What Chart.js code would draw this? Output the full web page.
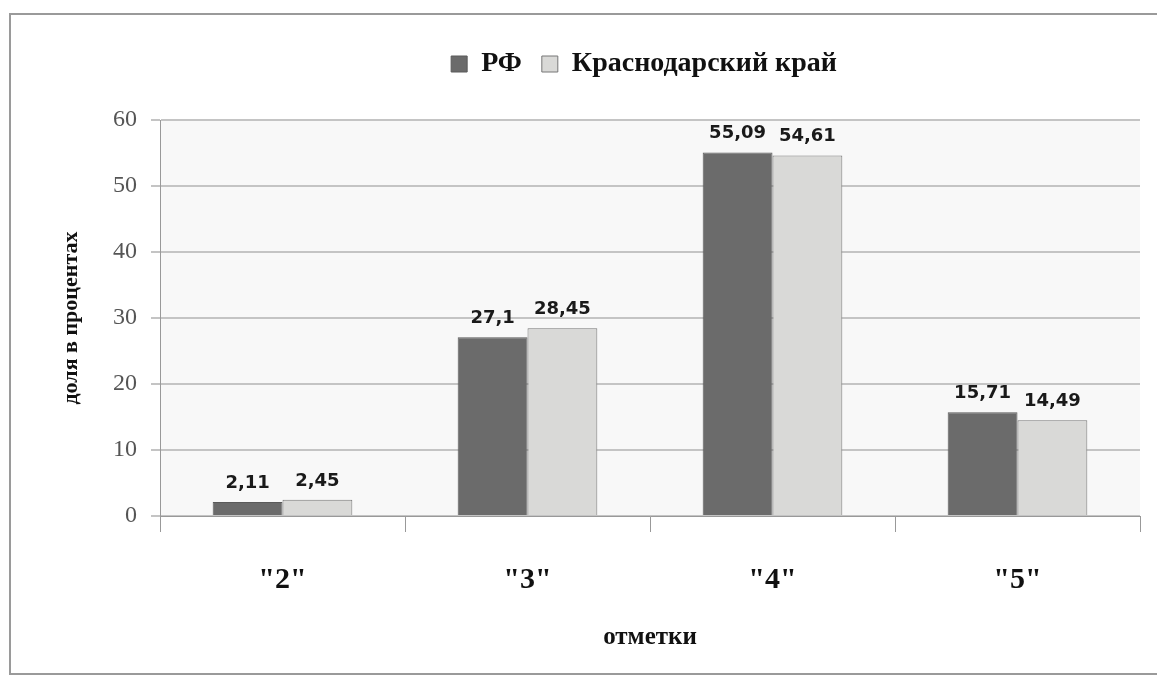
<!DOCTYPE html>
<html>
<head>
<meta charset="utf-8">
<script src="https://cdn.jsdelivr.net/npm/chart.js@4"></script>
<style>
  html, body { margin: 0; padding: 0; background: #fff; }
  canvas { display: block; }
</style>
</head>
<body>
<canvas id="marksChart" width="1157" height="681"></canvas>
<script>
// Распределение отметок
const categories = ['"2"', '"3"', '"4"', '"5"'];
const seriesNames = ['РФ', 'Краснодарский край'];
const rfValues = [2.11, 27.1, 55.09, 15.71];
const krayValues = [2.45, 28.45, 54.61, 14.49];
const yTicks = [0, 10, 20, 30, 40, 50, 60];

const serif = '"Liberation Serif", "Times New Roman", serif';

// frame + light plot background
const framePlugin = {
    id: 'frame',
    afterInit(chart) {
        // extra gap between legend and plot
        const legend = chart.legend;
        const fit = legend.fit;
        legend.fit = function() {
            fit.call(this);
            this.height += 32;
        };
    },
    afterLayout(chart) {
        // legend sits over the plot centre, not the canvas centre
        chart.legend.left += 74;
        chart.legend.right += 74;
    },
    beforeDraw(chart) {
        const ctx = chart.ctx;
        const a = chart.chartArea;
        ctx.save();
        ctx.fillStyle = '#fff';
        ctx.fillRect(0, 0, chart.width, chart.height);
        ctx.strokeStyle = '#9a9a9a';
        ctx.lineWidth = 2;
        ctx.strokeRect(10, 14, chart.width + 10, 660);
        ctx.fillStyle = '#f8f8f8';
        ctx.fillRect(a.left, a.top, a.right - a.left, a.bottom - a.top);
        ctx.restore();
    }
};

// value labels above bars
const valueLabels = {
    id: 'valueLabels',
    afterDatasetsDraw(chart) {
        const ctx = chart.ctx;
        ctx.save();
        ctx.font = 'bold 18px "DejaVu Sans", Verdana, sans-serif';
        ctx.fillStyle = '#1a1a1a';
        ctx.textAlign = 'center';
        ctx.textBaseline = 'bottom';
        chart.data.datasets.forEach((ds, i) => {
            chart.getDatasetMeta(i).data.forEach((bar, j) => {
                const txt = String(ds.data[j]).replace('.', ',');
                ctx.fillText(txt, bar.x, bar.y - 10);
            });
        });
        ctx.restore();
    }
};

new Chart(document.getElementById('marksChart').getContext('2d'), {
    type: 'bar',
    data: {
        labels: categories,
        datasets: [
            {
                label: seriesNames[0],
                data: rfValues,
                backgroundColor: '#6b6b6b',
                borderColor: '#5a5a5a',
                borderWidth: 1,
                categoryPercentage: 0.57,
                barPercentage: 1
            },
            {
                label: seriesNames[1],
                data: krayValues,
                backgroundColor: '#d9d9d7',
                borderColor: '#777',
                borderWidth: 1,
                categoryPercentage: 0.57,
                barPercentage: 1
            }
        ]
    },
    options: {
        responsive: false,
        animation: false,
        layout: { padding: { left: 0, right: 17, top: 30, bottom: 0 } },
        scales: {
            x: {
                afterFit(scale) { scale.height = 165; },
                grid: {
                    offset: true,
                    drawOnChartArea: false,
                    drawTicks: true,
                    tickLength: 16,
                    color: '#999',
                    lineWidth: 1
                },
                border: { color: '#999', width: 1 },
                ticks: {
                    color: '#111',
                    padding: 30,
                    font: { family: serif, size: 30, weight: 'bold' }
                },
                title: {
                    display: true,
                    text: 'отметки',
                    color: '#111',
                    padding: { top: 14, bottom: 28 },
                    font: { family: serif, size: 25, weight: 'bold' }
                }
            },
            y: {
                min: 0,
                max: 60,
                afterFit(scale) { scale.width = 160; },
                afterBuildTicks(scale) { scale.ticks = yTicks.map(v => ({ value: v })); },
                grid: {
                    color: '#c4c4c4',
                    lineWidth: 2,
                    tickLength: 9
                },
                border: { color: '#999', width: 1 },
                ticks: {
                    color: '#555',
                    padding: 14,
                    font: { family: serif, size: 24 }
                },
                title: {
                    display: true,
                    text: 'доля в процентах',
                    color: '#111',
                    padding: { top: 58, bottom: 0 },
                    font: { family: serif, size: 22, weight: 'bold' }
                }
            }
        },
        plugins: {
            legend: {
                position: 'top',
                labels: {
                    color: '#111',
                    boxWidth: 16,
                    boxHeight: 16,
                    padding: 20,
                    font: { family: serif, size: 28, weight: 'bold' }
                }
            },
            tooltip: { enabled: false }
        }
    },
    plugins: [framePlugin, valueLabels]
});
</script>
</body>
</html>
